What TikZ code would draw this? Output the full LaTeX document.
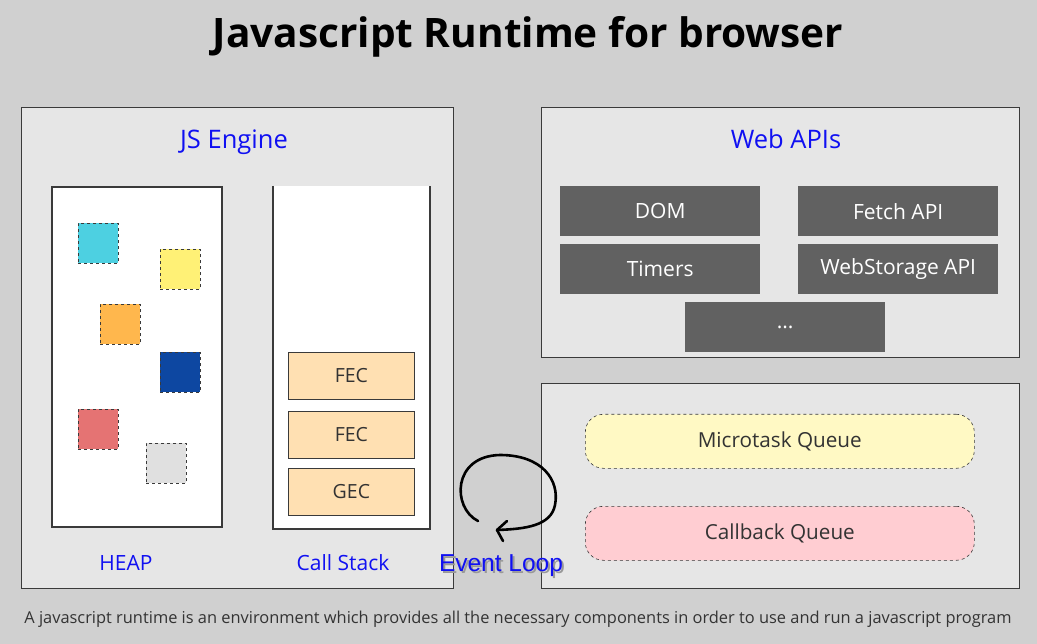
\documentclass[tikz,border=0pt]{standalone}
\usepackage{fontspec}
\setmainfont{Open Sans}
\newfontfamily\looplabelfont{Liberation Sans}
\usetikzlibrary{positioning}

\definecolor{bgcol}{HTML}{D0D0D0}
\definecolor{panelcol}{HTML}{E6E6E6}
\definecolor{edgecol}{HTML}{3A3A3A}
\definecolor{jsblue}{HTML}{1010F2}
\definecolor{apigray}{HTML}{616161}
\definecolor{stackfill}{HTML}{FFE0B2}
\definecolor{microfill}{HTML}{FFF9C4}
\definecolor{callbackfill}{HTML}{FFCDD2}
\definecolor{objcyan}{HTML}{4DD0E1}
\definecolor{objyellow}{HTML}{FFF176}
\definecolor{objorange}{HTML}{FFB74D}
\definecolor{objblue}{HTML}{0D47A1}
\definecolor{objred}{HTML}{E57373}
\definecolor{objgray}{HTML}{E0E0E0}

\begin{document}
\begin{tikzpicture}[x=1pt,y=-1pt,
  panel/.style={draw=edgecol,fill=panelcol,line width=0.8pt,anchor=north west,inner sep=0pt},
  heading/.style={text=jsblue,anchor=base,inner sep=0pt,font=\fontsize{25.5}{30}\selectfont},
  sublabel/.style={text=jsblue,anchor=base,inner sep=0pt,font=\fontsize{21}{25}\selectfont},
  heapobj/.style={draw=edgecol,dashed,line width=0.6pt,anchor=north west,minimum size=40pt,inner sep=0pt},
  frame/.style={draw=edgecol,fill=stackfill,line width=0.8pt,anchor=north west,minimum width=126pt,minimum height=47pt,inner sep=0pt,text=black!80,font=\fontsize{19.5}{23}\selectfont},
  api/.style={fill=apigray,anchor=north west,minimum width=200pt,minimum height=50pt,inner sep=0pt,text=white,font=\fontsize{21}{25}\selectfont},
  queue/.style={draw=edgecol,dashed,line width=0.6pt,rounded corners=18pt,anchor=north west,minimum width=389pt,minimum height=54pt,inner sep=0pt,text=black!80,font=\fontsize{20.7}{24}\selectfont}]
  \fill[bgcol] (0,0) rectangle (1037,644);
  \useasboundingbox (0,0) rectangle (1037,644);

  \node[anchor=base,inner sep=0pt,font=\bfseries\fontsize{40.6}{46}\selectfont] (title) at (528,48) {Javascript Runtime for browser};

  % JS engine
  \node[panel,minimum width=432pt,minimum height=481pt] (engine) at (21,107) {};
  \node[heading] (enginetitle) at (234,149) {JS Engine};
  \node[draw=edgecol,fill=white,line width=1.6pt,anchor=north west,minimum width=170pt,minimum height=340pt,inner sep=0pt] (heap) at (51,186) {};
  \node[heapobj,fill=objcyan] (obja) at (78,223) {};
  \node[heapobj,fill=objyellow] (objb) at (160,249) {};
  \node[heapobj,fill=objorange] (objc) at (100,304) {};
  \node[heapobj,fill=objblue] (objd) at (160,352) {};
  \node[heapobj,fill=objred] (obje) at (78,409) {};
  \node[heapobj,fill=objgray] (objf) at (146,443) {};
  \fill[white] (273,186) rectangle (430,529);
  \draw[edgecol,line width=1.6pt] (273,186) -- (273,529) -- (430,529) -- (430,186);
  \node[frame] (fec1) at (288,352) {FEC};
  \node[frame] (fec2) at (288,411) {FEC};
  \node[frame] (gec) at (288,468) {GEC};
  \node[sublabel] (heaplabel) at (126,570) {HEAP};
  \node[sublabel] (stacklabel) at (343,570) {Call Stack};

  % web apis
  \node[panel,minimum width=478pt,minimum height=250pt] (webapis) at (541,107) {};
  \node[heading] (webtitle) at (786,149) {Web APIs};
  \node[api] (dom) at (560,186) {DOM};
  \node[api] (fetch) at (798,186) {Fetch API};
  \node[api] (timers) at (560,244) {Timers};
  \node[api] (storage) at (798,244) {WebStorage API};
  \node[api] (more) at (685,302) {...};

  % queues
  \node[panel,minimum width=478pt,minimum height=205pt] (queues) at (541,383) {};
  \node[queue,fill=microfill] (microtask) at (585,414) {Microtask Queue};
  \node[queue,fill=callbackfill] (callback) at (585,506) {Callback Queue};

  % event loop
  \coordinate (loopstart) at (478,521);
  \coordinate (looptip) at (497,530);
  \draw[line width=2.6pt,line cap=round] (loopstart) .. controls (452,508) and (452,456) .. (500,455)
    .. controls (542,455) and (560,480) .. (555,505) .. controls (551,526) and (525,529) .. (looptip);
  \draw[line width=2.6pt,line cap=round,line join=round] (507,521) -- (looptip) -- (503,541);
  \node[text=black!40,anchor=base,inner sep=0pt,font=\looplabelfont\fontsize{24.5}{28}\selectfont] (loopshadow) at (503,573) {Event Loop};
  \node[text=jsblue,anchor=base,inner sep=0pt,font=\looplabelfont\fontsize{24.5}{28}\selectfont] (looplabel) at (501,571) {Event Loop};

  \node[text=black!80,anchor=base,inner sep=0pt,font=\fontsize{16.4}{19}\selectfont] (caption) at (518,623) {A javascript runtime is an environment which provides all the necessary components in order to use and run a javascript program};
\end{tikzpicture}
\end{document}
